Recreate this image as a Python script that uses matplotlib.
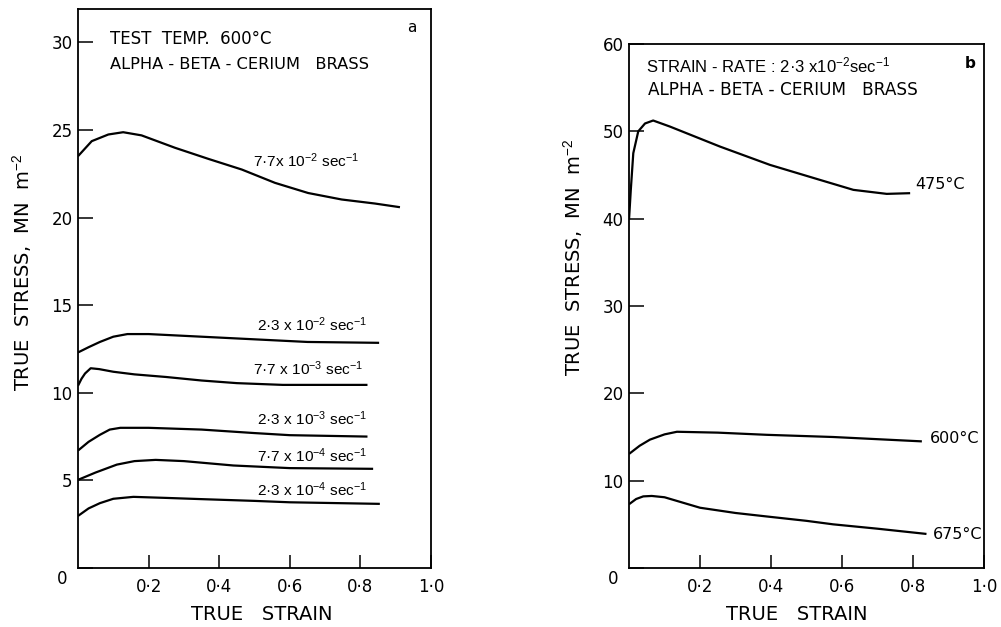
import matplotlib
matplotlib.use("Agg")
import matplotlib.pyplot as plt

# ---------------- data: panel a (test temp 600 C) ----------------
a_x_77e2 = [0, 0.039, 0.086, 0.128, 0.18, 0.275, 0.369, 0.464, 0.558, 0.652, 0.747, 0.841, 0.912]
a_y_77e2 = [23.5, 24.36, 24.74, 24.87, 24.69, 23.98, 23.35, 22.74, 21.98, 21.4, 21.03, 20.8, 20.59]

a_x_23e2 = [0, 0.03, 0.062, 0.10, 0.14, 0.2, 0.35, 0.5, 0.65, 0.853]
a_y_23e2 = [12.3, 12.6, 12.9, 13.2, 13.35, 13.35, 13.2, 13.05, 12.9, 12.85]

a_x_77e3 = [0, 0.01, 0.02, 0.036, 0.06, 0.1, 0.16, 0.25, 0.35, 0.45, 0.58, 0.82]
a_y_77e3 = [10.4, 10.8, 11.1, 11.4, 11.35, 11.2, 11.05, 10.9, 10.7, 10.55, 10.45, 10.45]

a_x_23e3 = [0, 0.03, 0.062, 0.09, 0.12, 0.2, 0.35, 0.5, 0.6, 0.82]
a_y_23e3 = [6.7, 7.2, 7.6, 7.9, 8.0, 8.0, 7.9, 7.7, 7.58, 7.5]

a_x_77e4 = [0, 0.05, 0.11, 0.16, 0.22, 0.3, 0.44, 0.6, 0.836]
a_y_77e4 = [5.03, 5.45, 5.9, 6.1, 6.17, 6.1, 5.85, 5.7, 5.66]

a_x_23e4 = [0, 0.03, 0.062, 0.1, 0.157, 0.25, 0.35, 0.5, 0.6, 0.855]
a_y_23e4 = [2.97, 3.4, 3.7, 3.95, 4.06, 4.0, 3.93, 3.83, 3.75, 3.66]

a_labels = [r"7·7x 10$^{-2}$ sec$^{-1}$", r"2·3 x 10$^{-2}$ sec$^{-1}$",
            r"7·7 x 10$^{-3}$ sec$^{-1}$", r"2·3 x 10$^{-3}$ sec$^{-1}$",
            r"7·7 x 10$^{-4}$ sec$^{-1}$", r"2·3 x 10$^{-4}$ sec$^{-1}$"]
a_label_x = [0.496, 0.507, 0.496, 0.507, 0.507, 0.507]
a_label_y = [22.86, 13.5, 11.03, 8.17, 6.07, 4.11]

# ---------------- data: panel b (strain rate 2.3e-2) ----------------
b_x_475 = [0.0, 0.005, 0.012, 0.026, 0.045, 0.068, 0.115, 0.256, 0.397, 0.538, 0.632, 0.726, 0.792]
b_y_475 = [39.9, 43.3, 47.5, 50.0, 50.9, 51.24, 50.55, 48.26, 46.16, 44.44, 43.3, 42.84, 42.92]

b_x_600 = [0, 0.03, 0.059, 0.1, 0.135, 0.25, 0.388, 0.575, 0.7, 0.825]
b_y_600 = [13.06, 14.0, 14.7, 15.3, 15.6, 15.5, 15.25, 15.0, 14.75, 14.5]

b_x_675 = [0, 0.02, 0.04, 0.064, 0.1, 0.15, 0.2, 0.3, 0.388, 0.5, 0.575, 0.7, 0.838]
b_y_675 = [7.3, 7.9, 8.2, 8.25, 8.1, 7.5, 6.9, 6.3, 5.9, 5.4, 5.0, 4.5, 3.9]

b_labels = ["475°C", "600°C", "675°C"]
b_label_x = [0.806, 0.848, 0.856]
b_label_y = [43.4, 14.3, 3.3]

x_ticks = [0.2, 0.4, 0.6, 0.8, 1.0]
x_ticklabels = ["0·2", "0·4", "0·6", "0·8", "1·0"]
a_y_ticks = [0, 5, 10, 15, 20, 25, 30]
a_y_ticklabels = ["", "5", "10", "15", "20", "25", "30"]
b_y_ticks = [0, 10, 20, 30, 40, 50, 60]
b_y_ticklabels = ["", "10", "20", "30", "40", "50", "60"]

plt.rcParams['font.family'] = ['DejaVu Sans']
plt.rcParams['mathtext.fontset'] = 'custom'
plt.rcParams['mathtext.rm'] = 'Liberation Sans'
plt.rcParams['mathtext.it'] = 'Liberation Sans'
plt.rcParams['mathtext.default'] = 'rm'

LAB_FONT = ['Liberation Sans', 'DejaVu Sans']

fig = plt.figure(figsize=(10.01, 6.27), dpi=100)
axa = fig.add_axes([0.0779, 0.0941, 0.4306 - 0.0779, 0.9856 - 0.0941])
axb = fig.add_axes([0.6284, 0.0941, 0.983 - 0.6284, 0.9298 - 0.0941])

lw = 1.6
for xs, ys in [(a_x_77e2, a_y_77e2), (a_x_23e2, a_y_23e2), (a_x_77e3, a_y_77e3),
               (a_x_23e3, a_y_23e3), (a_x_77e4, a_y_77e4), (a_x_23e4, a_y_23e4)]:
    axa.plot(xs, ys, color='black', lw=lw, solid_capstyle='butt', solid_joinstyle='round')
for xs, ys in [(b_x_475, b_y_475), (b_x_600, b_y_600), (b_x_675, b_y_675)]:
    axb.plot(xs, ys, color='black', lw=lw, solid_capstyle='butt', solid_joinstyle='round')

for lab, lx, ly in zip(a_labels, a_label_x, a_label_y):
    axa.text(lx, ly, lab, fontsize=11.1, va='baseline', ha='left', family=LAB_FONT)
for lab, lx, ly in zip(b_labels, b_label_x, b_label_y):
    axb.text(lx, ly, lab, fontsize=11.5, va='baseline', ha='left')

axa.text(0.0907, 29.9, "TEST  TEMP.  600°C", fontsize=12, va='baseline')
axa.text(0.0907, 28.5, "ALPHA - BETA - CERIUM   BRASS", fontsize=11.7, va='baseline')
axa.text(0.932, 30.6, "a", fontsize=11, va='baseline')

axb.text(0.048, 56.8, r"STRAIN - RATE : 2·3 x10$^{-2}$sec$^{-1}$", fontsize=12,
         va='baseline', family=LAB_FONT)
axb.text(0.054, 54.2, "ALPHA - BETA - CERIUM   BRASS", fontsize=12.2, va='baseline')
axb.text(0.946, 57.2, "b", fontsize=11, va='baseline', fontweight='bold')

for ax, yt, ytl, ymax in [(axa, a_y_ticks, a_y_ticklabels, 31.9), (axb, b_y_ticks, b_y_ticklabels, 60)]:
    ax.set_xlim(0, 1.0)
    ax.set_ylim(0, ymax)
    ax.set_xticks(x_ticks)
    ax.set_xticklabels(x_ticklabels)
    ax.set_yticks(yt)
    ax.set_yticklabels(ytl)
    ax.tick_params(axis='x', direction='in', length=9.5, width=1.1, pad=7, labelsize=12)
    ax.tick_params(axis='y', direction='in', length=11, width=1.1, pad=4, labelsize=12)
    for s in ax.spines.values():
        s.set_linewidth(1.3)
    ax.annotate("0", xy=(0, 0), xytext=(-16, -11), textcoords='offset pixels',
                ha='center', va='center', fontsize=12, annotation_clip=False)
    ax.set_xlabel("TRUE   STRAIN", fontsize=14)
    ax.set_ylabel(r"TRUE  STRESS,  MN  m$^{-2}$", fontsize=14)

axa.xaxis.set_label_coords(0.52, -0.066)
axb.xaxis.set_label_coords(0.473, -0.071)
axa.yaxis.set_label_coords(-0.125, 0.53)
axb.yaxis.set_label_coords(-0.124, 0.594)

fig.savefig("out.png", dpi=100)
